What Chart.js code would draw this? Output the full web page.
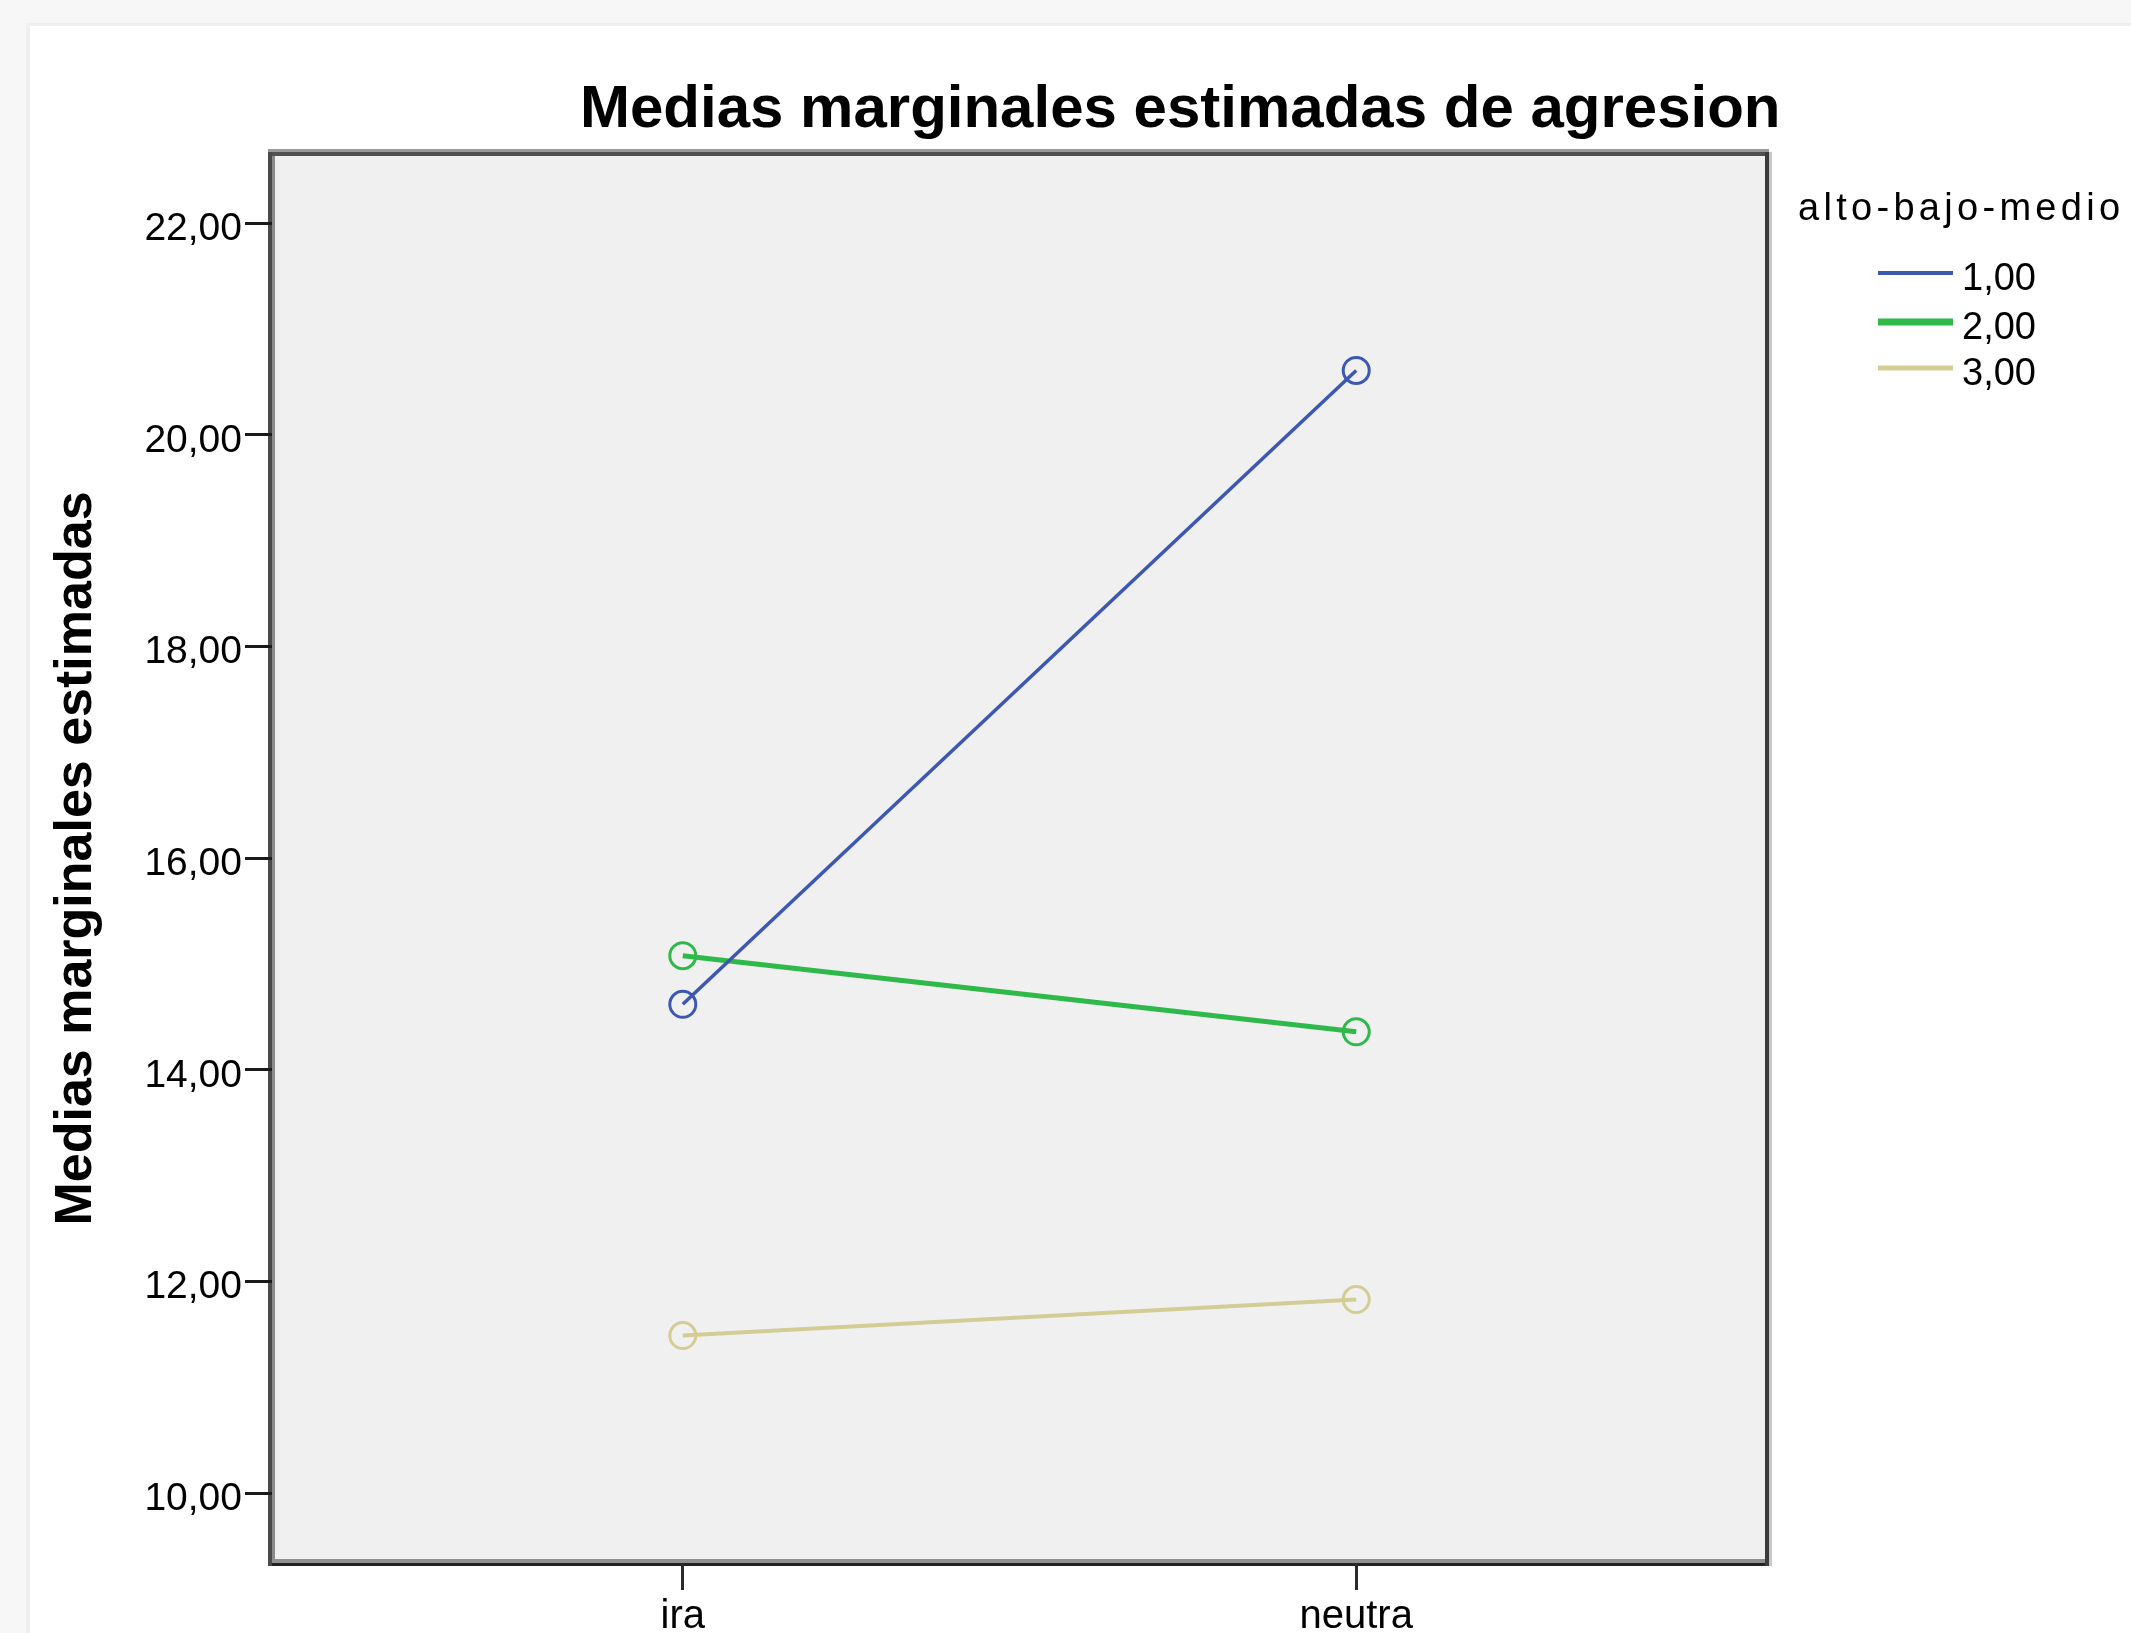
<!DOCTYPE html>
<html>
<head>
<meta charset="utf-8">
<script src="https://cdn.jsdelivr.net/npm/chart.js@4.4.1/dist/chart.umd.min.js"></script>
<style>
  html, body { margin: 0; padding: 0; background: #ffffff; }
  #wrap { width: 2131px; height: 1633px; position: relative; }
</style>
</head>
<body>
<div id="wrap"><canvas id="c" width="2131" height="1633"></canvas></div>
<script>
// ---- data ----
const categories = ['ira', 'neutra'];
const seriesNames = ['1,00', '2,00', '3,00'];
const serie1 = [14.62, 20.61];
const serie2 = [15.08, 14.36];
const serie3 = [11.49, 11.83];
const yTickValues = [10, 12, 14, 16, 18, 20, 22];
const chartTitle = 'Medias marginales estimadas de agresion';
const yAxisTitle = 'Medias marginales estimadas';
const legendTitle = 'alto-bajo-medio';

const colors = ['#3d58b2', '#30b94b', '#d3cd95'];
const lineWidths = [3.5, 5, 4];
const legendWidths = [4, 7, 5];
const allSeries = [serie1, serie2, serie3];

const FONT = '"Liberation Sans", Arial, sans-serif';

const datasets = allSeries.map((s, i) => ({
  label: seriesNames[i],
  data: s.map((v, j) => ({ x: j, y: v })),
  borderColor: colors[i],
  borderWidth: lineWidths[i],
  pointRadius: 13,
  pointHoverRadius: 13,
  pointBorderWidth: 3,
  pointBorderColor: colors[i],
  pointBackgroundColor: 'rgba(0,0,0,0)',
  fill: false,
  tension: 0
}));

const decorPlugin = {
  id: 'decor',
  beforeDraw(chart) {
    const ctx = chart.ctx;
    const a = chart.chartArea;
    ctx.save();
    // outer window frame
    ctx.fillStyle = '#ffffff';
    ctx.fillRect(0, 0, chart.width, chart.height);
    ctx.fillStyle = '#f7f7f7';
    ctx.fillRect(0, 0, chart.width, 26);
    ctx.fillRect(0, 0, 30, chart.height);
    ctx.fillStyle = '#efefef';
    ctx.fillRect(28, 23, chart.width - 28, 3);
    ctx.fillRect(26, 23, 4, chart.height - 23);
    // plot background
    ctx.fillStyle = '#f0f0f0';
    ctx.fillRect(a.left, a.top, a.right - a.left, a.bottom - a.top);
    // frame
    const L = a.left, R = a.right, T = a.top, B = a.bottom;
    ctx.fillStyle = '#9a9a9a'; ctx.fillRect(L - 4, T - 5, R - L + 6, 3);
    ctx.fillStyle = '#505050'; ctx.fillRect(L - 4, T - 2, R - L + 6, 4);
    ctx.fillStyle = '#909090'; ctx.fillRect(L - 4, B - 4, R - L + 6, 4);
    ctx.fillStyle = '#222222'; ctx.fillRect(L - 4, B, R - L + 8, 3);
    ctx.fillStyle = '#4a4a4a'; ctx.fillRect(L - 4, T - 2, 4, B - T + 5);
    ctx.fillStyle = '#8a8a8a'; ctx.fillRect(L, T + 2, 3, B - T - 6);
    ctx.fillStyle = '#3c3c3c'; ctx.fillRect(R - 2, T - 2, 4, B - T + 5);
    ctx.fillStyle = '#c8c8c8'; ctx.fillRect(R + 2, T - 2, 3, B - T + 5);
    ctx.restore();
  },
  afterDraw(chart) {
    const ctx = chart.ctx;
    const a = chart.chartArea;
    ctx.save();
    // title
    ctx.fillStyle = '#000';
    ctx.font = 'bold 60px ' + FONT;
    ctx.textAlign = 'left';
    ctx.textBaseline = 'alphabetic';
    ctx.fillText(chartTitle, 580, 127);
    // y axis title
    ctx.save();
    ctx.translate(91, (a.top + a.bottom) / 2);
    ctx.rotate(-Math.PI / 2);
    ctx.font = 'bold 52px ' + FONT;
    ctx.textAlign = 'center';
    ctx.fillText(yAxisTitle, 0, 0);
    ctx.restore();
    // legend
    ctx.font = '38px ' + FONT;
    ctx.textAlign = 'left';
    try { ctx.letterSpacing = '4.3px'; } catch (e) {}
    ctx.fillText(legendTitle, 1798, 220);
    try { ctx.letterSpacing = '0px'; } catch (e) {}
    const ys = [273, 322, 368];
    chart.data.datasets.forEach((ds, i) => {
      ctx.strokeStyle = ds.borderColor;
      ctx.lineWidth = legendWidths[i];
      ctx.beginPath();
      ctx.moveTo(1878, ys[i]);
      ctx.lineTo(1953, ys[i]);
      ctx.stroke();
      ctx.fillStyle = '#000';
      ctx.fillText(ds.label, 1962, ys[i] + 17);
    });
    ctx.restore();
  }
};

new Chart(document.getElementById('c'), {
  type: 'line',
  data: { datasets },
  plugins: [decorPlugin],
  options: {
    responsive: false,
    animation: false,
    devicePixelRatio: 1,
    layout: { padding: { left: 0, top: 154, right: 364, bottom: 0 } },
    plugins: {
      legend: { display: false },
      title: { display: false },
      tooltip: { enabled: false }
    },
    scales: {
      x: {
        type: 'linear',
        min: -0.61,
        max: 1.61,
        afterFit(scale) { scale.height = 70; },
        afterBuildTicks(scale) { scale.ticks = categories.map((c, i) => ({ value: i })); },
        border: { display: false },
        grid: {
          drawOnChartArea: false,
          drawTicks: true,
          tickLength: 27,
          tickWidth: 3,
          tickColor: '#2a2a2a'
        },
        ticks: {
          autoSkip: false,
          maxRotation: 0,
          padding: 3,
          color: '#000',
          font: { family: FONT, size: 40 },
          callback: (v) => categories[v] !== undefined ? categories[v] : ''
        }
      },
      y: {
        type: 'linear',
        min: 9.341,
        max: 22.655,
        afterFit(scale) { scale.width = 272; },
        afterBuildTicks(scale) { scale.ticks = yTickValues.map(v => ({ value: v })); },
        border: { display: false },
        grid: {
          drawOnChartArea: false,
          drawTicks: true,
          tickLength: 27,
          tickWidth: 3,
          tickColor: '#1a1a1a'
        },
        ticks: {
          padding: 3,
          labelOffset: 6,
          color: '#000',
          font: { family: FONT, size: 39 },
          callback: (v) => Number(v).toFixed(2).replace('.', ',')
        }
      }
    }
  }
});
</script>
</body>
</html>
